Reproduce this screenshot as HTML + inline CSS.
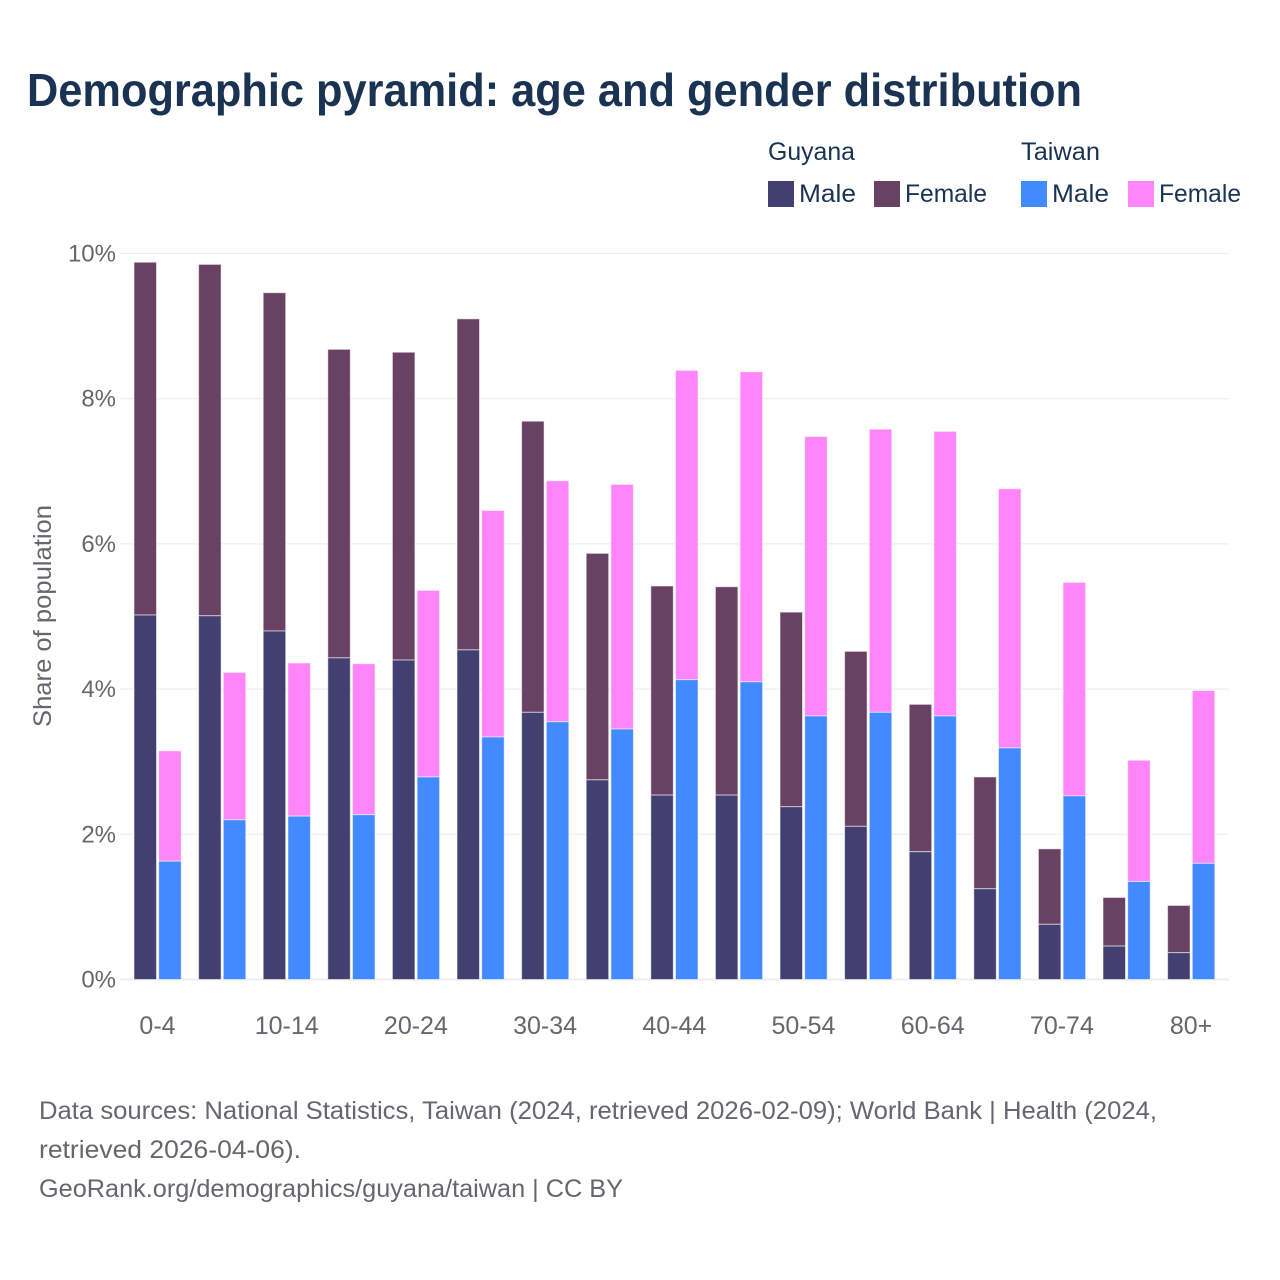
<!DOCTYPE html>
<html lang="en">
<head>
<meta charset="utf-8">
<title>Demographic pyramid: age and gender distribution</title>
<style>
html,body{margin:0;padding:0;background:#fff;width:1280px;height:1280px;overflow:hidden}
svg{display:block}
text{font-family:"Liberation Sans",Arial,sans-serif}
</style>
</head>
<body>
<svg id="chart" xmlns="http://www.w3.org/2000/svg" width="1280" height="1280" viewBox="0 0 1280 1280">
  <rect x="0" y="0" width="1280" height="1280" fill="#ffffff"/>
  <text x="27" y="106" font-size="46" font-weight="700" fill="#1a3353" textLength="1055" lengthAdjust="spacingAndGlyphs">Demographic pyramid: age and gender distribution</text>

  <g font-size="25" fill="#1a3353">
    <text x="768" y="160" textLength="87" lengthAdjust="spacingAndGlyphs">Guyana</text>
    <text x="1021" y="160" textLength="79" lengthAdjust="spacingAndGlyphs">Taiwan</text>
    <rect x="768" y="181" width="26" height="26" fill="#433f70"/>
    <text x="799" y="202" textLength="57" lengthAdjust="spacingAndGlyphs">Male</text>
    <rect x="874" y="181" width="26" height="26" fill="#694263"/>
    <text x="905" y="202" textLength="82" lengthAdjust="spacingAndGlyphs">Female</text>
    <rect x="1021" y="181" width="26" height="26" fill="#428aff"/>
    <text x="1052" y="202" textLength="57" lengthAdjust="spacingAndGlyphs">Male</text>
    <rect x="1128" y="181" width="26" height="26" fill="#ff85f8"/>
    <text x="1159" y="202" textLength="82" lengthAdjust="spacingAndGlyphs">Female</text>
  </g>

  <g id="grid"></g>
  <g id="bars"></g>
  <g id="yticks"></g>
  <g id="xticks"></g>

  <text transform="translate(51,616) rotate(-90)" text-anchor="middle" font-size="25" fill="#66666e" textLength="222" lengthAdjust="spacingAndGlyphs">Share of population</text>

  <g font-size="25" fill="#66666e">
    <text x="39" y="1119" textLength="1118" lengthAdjust="spacingAndGlyphs">Data sources: National Statistics, Taiwan (2024, retrieved 2026-02-09); World Bank | Health (2024,</text>
    <text x="39" y="1158" textLength="262" lengthAdjust="spacingAndGlyphs">retrieved 2026-04-06).</text>
    <text x="39" y="1197" textLength="584" lengthAdjust="spacingAndGlyphs">GeoRank.org/demographics/guyana/taiwan | CC BY</text>
  </g>
</svg>
<script>
var categories = ['0-4','5-9','10-14','15-19','20-24','25-29','30-34','35-39','40-44','45-49','50-54','55-59','60-64','65-69','70-74','75-79','80+'];
var guyanaMale = [5.02,5.01,4.80,4.43,4.40,4.54,3.68,2.75,2.54,2.54,2.38,2.11,1.76,1.25,0.76,0.46,0.37];
var guyanaFemale = [4.86,4.84,4.66,4.25,4.24,4.56,4.01,3.12,2.88,2.87,2.68,2.41,2.03,1.54,1.04,0.67,0.65];
var taiwanMale = [1.63,2.20,2.25,2.27,2.79,3.34,3.55,3.45,4.13,4.10,3.63,3.68,3.63,3.19,2.53,1.35,1.60];
var taiwanFemale = [1.52,2.03,2.11,2.08,2.57,3.12,3.32,3.37,4.26,4.27,3.85,3.90,3.92,3.57,2.94,1.67,2.38];
var yTickValues = [0,2,4,6,8,10];

var NS = 'http://www.w3.org/2000/svg';
function yScale(v){ return 979.5 - v * 72.6; }
function xCenter(i){ return 157.5 + i * 64.6; }

function makeRect(parent, x, top, w, bottom, fill){
  var r = document.createElementNS(NS, 'rect');
  r.setAttribute('x', x);
  r.setAttribute('y', top);
  r.setAttribute('width', w);
  r.setAttribute('height', Math.max(0, bottom - top));
  r.setAttribute('fill', fill);
  r.setAttribute('stroke', '#ffffff');
  r.setAttribute('stroke-opacity', '0.55');
  r.setAttribute('stroke-width', '1');
  parent.appendChild(r);
  return r;
}

var gridG = document.getElementById('grid');
var yG = document.getElementById('yticks');
yTickValues.forEach(function(v){
  var l = document.createElementNS(NS, 'line');
  
  
  l.setAttribute('x1', 120);
  l.setAttribute('x2', 1229);
  l.setAttribute('y1', yScale(v));
  l.setAttribute('y2', yScale(v));
  l.setAttribute('stroke', '#eeeeee');
  l.setAttribute('stroke-width', v === 0 ? 2 : 1.2);
  gridG.appendChild(l);
  var t = document.createElementNS(NS, 'text');
  
  
  t.setAttribute('x', 116);
  t.setAttribute('y', yScale(v) + 8);
  t.setAttribute('text-anchor', 'end');
  t.setAttribute('font-size', '24');
  t.setAttribute('fill', '#66666e');
  t.textContent = v + '%';
  yG.appendChild(t);
});

var barsG = document.getElementById('bars');
var xG = document.getElementById('xticks');
categories.forEach(function(cat, i){
  var cx = xCenter(i);
  var left = cx - 23.5, right = cx + 1.2;
  var w = 22.5;

  var gmTop = yScale(guyanaMale[i]);
  var gfTop = yScale(guyanaMale[i] + guyanaFemale[i]);
  var tmTop = yScale(taiwanMale[i]);
  var tfTop = yScale(taiwanMale[i] + taiwanFemale[i]);

  var gf = makeRect(barsG, left, gfTop, w, gmTop, '#694263');
  
  
  var gm = makeRect(barsG, left, gmTop, w, yScale(0), '#433f70');
  
  
  var tf = makeRect(barsG, right, tfTop, w, tmTop, '#ff85f8');
  
  
  var tm = makeRect(barsG, right, tmTop, w, yScale(0), '#428aff');
  
  

  if (i % 2 === 0) {
    var t = document.createElementNS(NS, 'text');
    
    
    t.setAttribute('x', cx);
    t.setAttribute('y', 1034);
    t.setAttribute('text-anchor', 'middle');
    t.setAttribute('font-size', '25');
    t.setAttribute('fill', '#66666e');
    t.textContent = cat;
    xG.appendChild(t);
  }
});
</script>
</body>
</html>
